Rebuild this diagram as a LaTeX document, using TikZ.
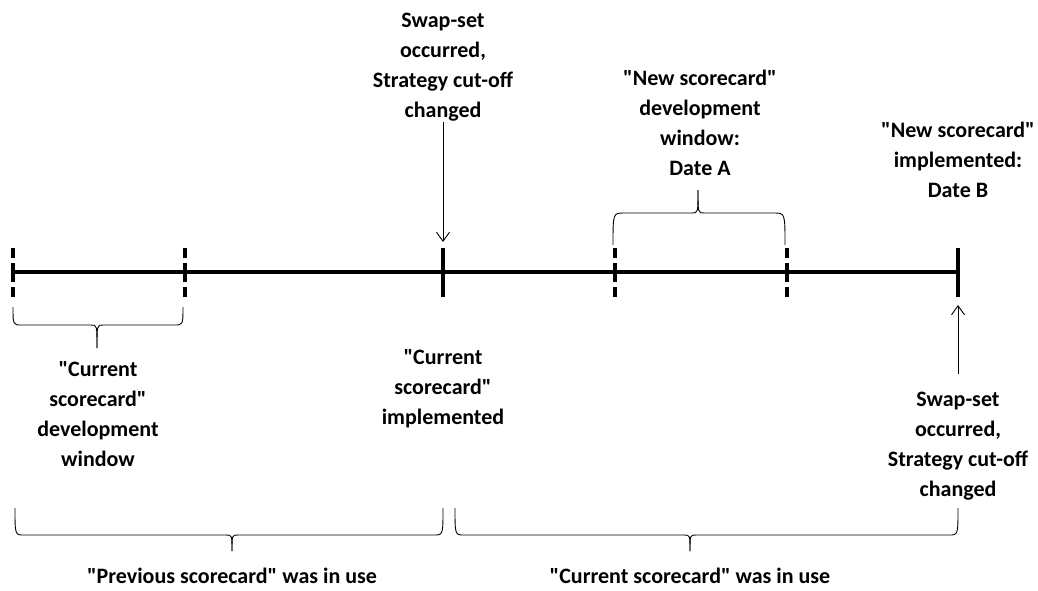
\documentclass[tikz,border=0pt]{standalone}
\usepackage{fontspec}
\setmainfont{Carlito}
\usetikzlibrary{arrows.meta}
\newcommand{\qd}{\textquotedbl}
\begin{document}
\begin{tikzpicture}[x=1pt,y=-1pt,
  lab/.style={font=\bfseries\fontsize{22}{30}\selectfont,align=center,inner sep=0pt,anchor=north},
  lab1/.style={font=\bfseries\fontsize{22}{30}\selectfont,inner sep=0pt,anchor=base},
  axis/.style={line width=4pt},
  solidtick/.style={line width=4pt},
  dashtick/.style={line width=3.5pt,dash pattern=on 10pt off 5pt on 19pt off 5pt on 10pt},
  brace/.style={line width=0.9pt},
  pointer/.style={line width=0.9pt,-{Straight Barb[length=9pt,width=13pt,line width=0.9pt]}}]
\useasboundingbox (0,0) rectangle (1038,590);
% timeline
\coordinate (start) at (12,272);
\coordinate (finish) at (958,272);
\draw[axis] (start) -- (finish);
% ticks
\coordinate (d1a) at (13,248); \coordinate (d1b) at (13,297);
\coordinate (d2a) at (185,248); \coordinate (d2b) at (185,297);
\coordinate (d3a) at (615,248); \coordinate (d3b) at (615,297);
\coordinate (d4a) at (787,248); \coordinate (d4b) at (787,297);
\coordinate (s1a) at (443,248); \coordinate (s1b) at (443,297);
\coordinate (s2a) at (958,248); \coordinate (s2b) at (958,297);
\draw[dashtick] (d1a) -- (d1b);
\draw[dashtick] (d2a) -- (d2b);
\draw[dashtick] (d3a) -- (d3b);
\draw[dashtick] (d4a) -- (d4b);
\draw[solidtick] (s1a) -- (s1b);
\draw[solidtick] (s2a) -- (s2b);
% braces
% small left brace (opening down)
\draw[brace] (13,307) .. controls (13,325) .. (22,325) -- (91,325) .. controls (97,325) .. (97,348);
\draw[brace] (183,307) .. controls (183,325) .. (174,325) -- (103,325) .. controls (97,325) .. (97,348);
% top brace (opening up)
\draw[brace] (613,245) .. controls (613,213) .. (624,213) -- (692,213) .. controls (698,213) .. (698,190);
\draw[brace] (785,245) .. controls (785,213) .. (774,213) -- (704,213) .. controls (698,213) .. (698,190);
% bottom braces
\draw[brace] (15,508) .. controls (15,535) .. (24,535) -- (226,535) .. controls (232,535) .. (232,551);
\draw[brace] (443,508) .. controls (443,535) .. (434,535) -- (238,535) .. controls (232,535) .. (232,551);
\draw[brace] (455,508) .. controls (455,535) .. (464,535) -- (684,535) .. controls (690,535) .. (690,551);
\draw[brace] (958,508) .. controls (958,535) .. (949,535) -- (696,535) .. controls (690,535) .. (690,551);
% labels
\node[lab] (swapA) at (443,13) {Swap-set\\occurred,\\Strategy cut-off\\changed};
\node[lab] (newdev) at (700,70) {\qd New scorecard\qd\\development\\window:\\Date A};
\node[lab] (newimp) at (958,122) {\qd New scorecard\qd\\implemented:\\Date B};
\node[lab] (curdev) at (98,361) {\qd Current\\scorecard\qd\\development\\window};
\node[lab] (curimp) at (443,349) {\qd Current\\scorecard\qd\\implemented};
\node[lab] (swapB) at (958,392) {Swap-set\\occurred,\\Strategy cut-off\\changed};
\node[lab1] (prevuse) at (232,583) {\qd Previous scorecard\qd{} was in use};
\node[lab1] (curuse) at (690,583) {\qd Current scorecard\qd{} was in use};
% pointers
\coordinate (a1s) at (443,122); \coordinate (a1e) at (443,242);
\coordinate (a2s) at (958,374); \coordinate (a2e) at (958,305);
\draw[pointer] (a1s) -- (a1e);
\draw[pointer] (a2s) -- (a2e);
\end{tikzpicture}
\end{document}
